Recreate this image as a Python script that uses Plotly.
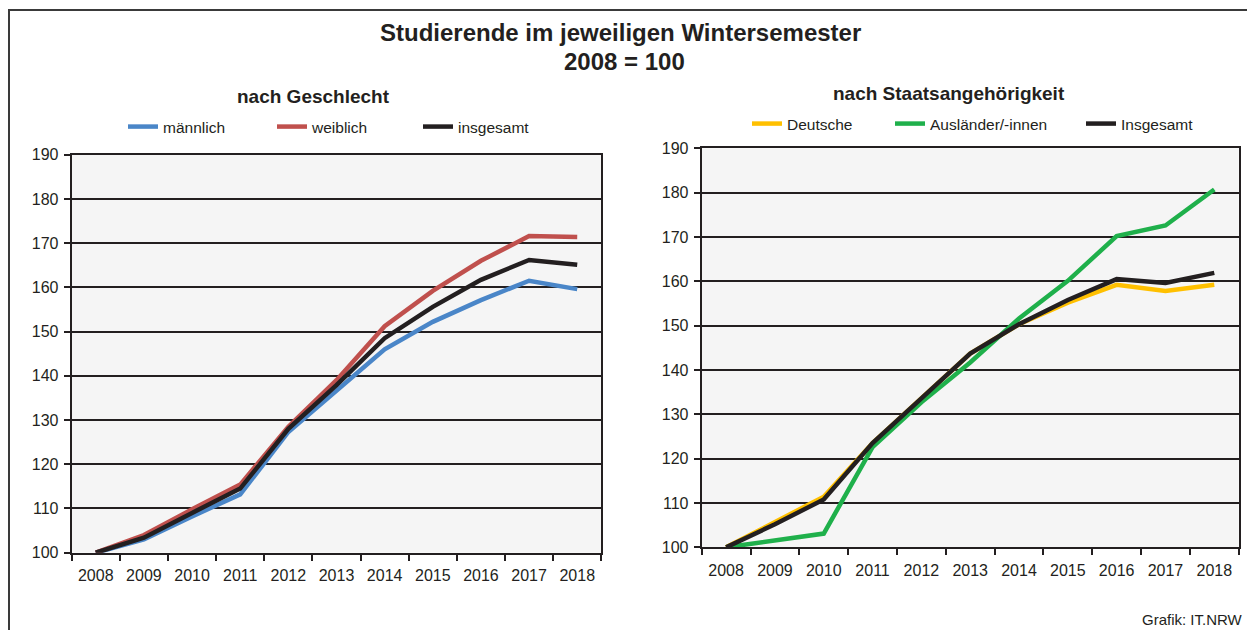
import plotly.graph_objects as go

years = ["2008", "2009", "2010", "2011", "2012", "2013", "2014", "2015", "2016", "2017", "2018"]

# nach Geschlecht
maennlich = [100, 103.0, 108.2, 113.2, 127.3, 136.7, 146.0, 152.2, 157.1, 161.5, 159.6]
weiblich = [100, 104.0, 109.8, 115.4, 128.5, 139.0, 151.2, 159.2, 166.0, 171.6, 171.4]
insgesamt_g = [100, 103.4, 109.0, 114.5, 128.0, 137.9, 148.5, 155.6, 161.7, 166.2, 165.1]

# nach Staatsangehörigkeit
deutsche = [100, 105.6, 111.4, 123.5, 133.6, 143.7, 150.3, 155.2, 159.2, 157.8, 159.2]
auslaender = [100, 101.6, 103.1, 122.6, 132.7, 141.7, 151.6, 160.1, 170.2, 172.6, 180.7]
insgesamt_s = [100, 105.2, 110.8, 123.5, 133.6, 143.7, 150.3, 155.8, 160.5, 159.6, 161.9]

y_ticks = [100, 110, 120, 130, 140, 150, 160, 170, 180, 190]

# the page body has an 8px margin, so the figure is sized to fit inside the window
OFF = 8
W, H = 1255 - 2 * OFF, 638 - 2 * OFF
FONT = "Liberation Sans, Arial, sans-serif"
TXT = "#231f20"

def px(x):
    return (x - OFF) / W

def py(y):
    return 1 - (y - OFF) / H

fig = go.Figure()

left_series = [
    ("männlich", maennlich, "#4a86c8", "legend"),
    ("weiblich", weiblich, "#c0504d", "legend2"),
    ("insgesamt", insgesamt_g, "#231f20", "legend3"),
]
right_series = [
    ("Deutsche", deutsche, "#ffc000", "legend4"),
    ("Ausländer/-innen", auslaender, "#1fb04b", "legend5"),
    ("Insgesamt", insgesamt_s, "#231f20", "legend6"),
]

for name, vals, col, leg in left_series:
    fig.add_trace(go.Scatter(x=years, y=vals, name=name, mode="lines",
                             line=dict(color=col, width=4.5), legend=leg, showlegend=True,
                             xaxis="x", yaxis="y"))
for name, vals, col, leg in right_series:
    fig.add_trace(go.Scatter(x=years, y=vals, name=name, mode="lines",
                             line=dict(color=col, width=4.5), legend=leg, showlegend=True,
                             xaxis="x2", yaxis="y2"))

axis_common = dict(
    showline=True, linecolor="#231f20", linewidth=2, mirror=True,
    tickfont=dict(family=FONT, size=16, color=TXT),
    ticks="outside", ticklen=6, tickcolor="#231f20", tickwidth=1.5,
    automargin=False,
)
x_range = [-0.5, len(years) - 0.5]

fig.update_layout(
    width=W, height=H,
    margin=dict(l=0, r=0, t=0, b=0, autoexpand=False),
    showlegend=True,
    paper_bgcolor="white",
    plot_bgcolor="#f5f5f5",
    font=dict(family=FONT, color=TXT),
    xaxis=dict(domain=[px(71.7), px(601.3)], type="category", tickson="boundaries",
               range=x_range, showgrid=False, anchor="y", ticklabelstandoff=7, **axis_common),
    yaxis=dict(domain=[py(552.7), py(154.7)], range=[100, 190], tickvals=y_ticks,
               showgrid=True, gridcolor="#231f20", gridwidth=1.5, anchor="x",
               zeroline=False, ticklabelstandoff=2, **axis_common),
    xaxis2=dict(domain=[px(701.7), px(1238.7)], type="category", tickson="boundaries",
                range=x_range, showgrid=False, anchor="y2", ticklabelstandoff=7, **axis_common),
    yaxis2=dict(domain=[py(547.3), py(148.3)], range=[100, 190], tickvals=y_ticks,
                showgrid=True, gridcolor="#231f20", gridwidth=1.5, anchor="x2",
                zeroline=False, ticklabelstandoff=2, **axis_common),
)

# legends (one per entry so each sits where the reference puts it)
leg_pos = {
    "legend": (163, 127), "legend2": (312, 127), "legend3": (458, 127),
    "legend4": (787, 124), "legend5": (930, 124), "legend6": (1121, 124),
}
for key, (lx, ly) in leg_pos.items():
    fig.update_layout({key: dict(x=px(lx - 40), y=py(ly), xanchor="left", yanchor="middle",
                                 orientation="h", bgcolor="rgba(0,0,0,0)",
                                 font=dict(family=FONT, size=15.5, color=TXT),
                                 itemwidth=30, tracegroupgap=0, visible=True)})

annotations = [
    dict(text="<b>Studierende im jeweiligen Wintersemester</b>", x=px(620), y=py(32), size=24),
    dict(text="<b>2008 = 100</b>", x=px(624), y=py(61), size=24),
    dict(text="<b>nach Geschlecht</b>", x=px(313), y=py(96), size=19),
    dict(text="<b>nach Staatsangehörigkeit</b>", x=px(949), y=py(94), size=19),
]
for a in annotations:
    fig.add_annotation(text=a["text"], x=a["x"], y=a["y"], xref="paper", yref="paper",
                       xanchor="center", yanchor="middle", showarrow=False,
                       font=dict(family=FONT, size=a["size"], color=TXT))
fig.add_annotation(text="Grafik: IT.NRW", x=px(1245), y=py(619), xref="paper", yref="paper",
                   xanchor="right", yanchor="middle", showarrow=False,
                   font=dict(family=FONT, size=15, color=TXT))

# outer frame
fig.add_shape(type="rect", xref="paper", yref="paper",
              x0=px(9), x1=1.05, y0=-0.05, y1=py(10),
              line=dict(color="#3a3a3a", width=2), fillcolor="rgba(0,0,0,0)", layer="below")

fig.write_html("out.html")
